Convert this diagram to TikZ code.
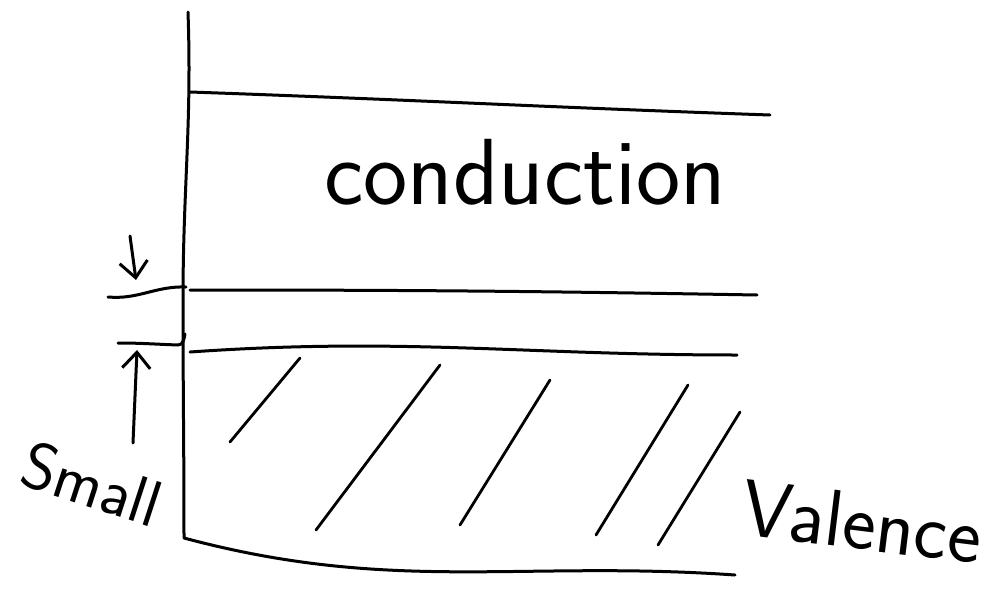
\documentclass[tikz,border=0pt]{standalone}
\usetikzlibrary{arrows.meta}
\tikzset{
    lab/.style={
        font=\sffamily\fontsize{40}{48}\selectfont, inner sep=0pt
    }
}
\begin{document}
\begin{tikzpicture}[x=0.5pt,y=-0.5pt, line cap=round, line join=round]

% background
\useasboundingbox[fill=white] (0,0) rectangle (987,600);

\tikzset{
  pen/.style={draw=black, line width=1.5pt},
  hatch/.style={draw=black, line width=1.4pt},
  gaparrow/.style={pen, -{Straight Barb[length=8pt, width=14pt]}},
}

% axis
\coordinate (top) at (188,12);
\coordinate (corner) at (184,538);

% conduction band
\coordinate (C1) at (190,92);
\coordinate (C2) at (770,115);
\coordinate (C3) at (190,290);
\coordinate (C4) at (757,295);
\coordinate (CL) at (108,297);

% valence band
\coordinate (V1) at (190,352);
\coordinate (V2) at (737,355);
\coordinate (V3) at (735,575);
\coordinate (VL) at (118,343);

% arrow ends
\coordinate (dn0) at (130,236);
\coordinate (dn1) at (136,280);
\coordinate (up0) at (133,443);
\coordinate (up1) at (137,350);

% outline
\draw[pen] (top) to[out=-88,in=90] (183,300) to[out=-90,in=90] (corner)
  to[out=-15,in=176] (V3);
\draw[pen] (C1) to[out=-2,in=178] (C2);
\draw[pen] (C3) to[out=0,in=179] (C4);
\draw[pen] (CL) to[out=-5,in=178] (186,287);
\draw[pen] (V1) to[out=4,in=180] (V2);
\draw[pen] (VL) to[out=0,in=178] (178,345) to[out=0,in=-100] (185,334);

% hatching
\draw[hatch] (230,442) -- (300,358);
\draw[hatch] (316,530) -- (440,365);
\draw[hatch] (460,525) -- (550,380);
\draw[hatch] (596,535) -- (688,385);
\draw[hatch] (658,545) -- (740,412);

% gap arrows
\draw[gaparrow] (dn0) -- (dn1);
\draw[gaparrow] (up0) -- (up1);

% labels
\node[lab, font=\sffamily\fontsize{47}{56}\selectfont] (cond) at (525,172) {conduction};
\node[lab, font=\sffamily\fontsize{33}{40}\selectfont, rotate=-18] (small) at (92,484) {Small};
\node[lab, rotate=-7] (val) at (862,522) {Valence};

\end{tikzpicture}
\end{document}
